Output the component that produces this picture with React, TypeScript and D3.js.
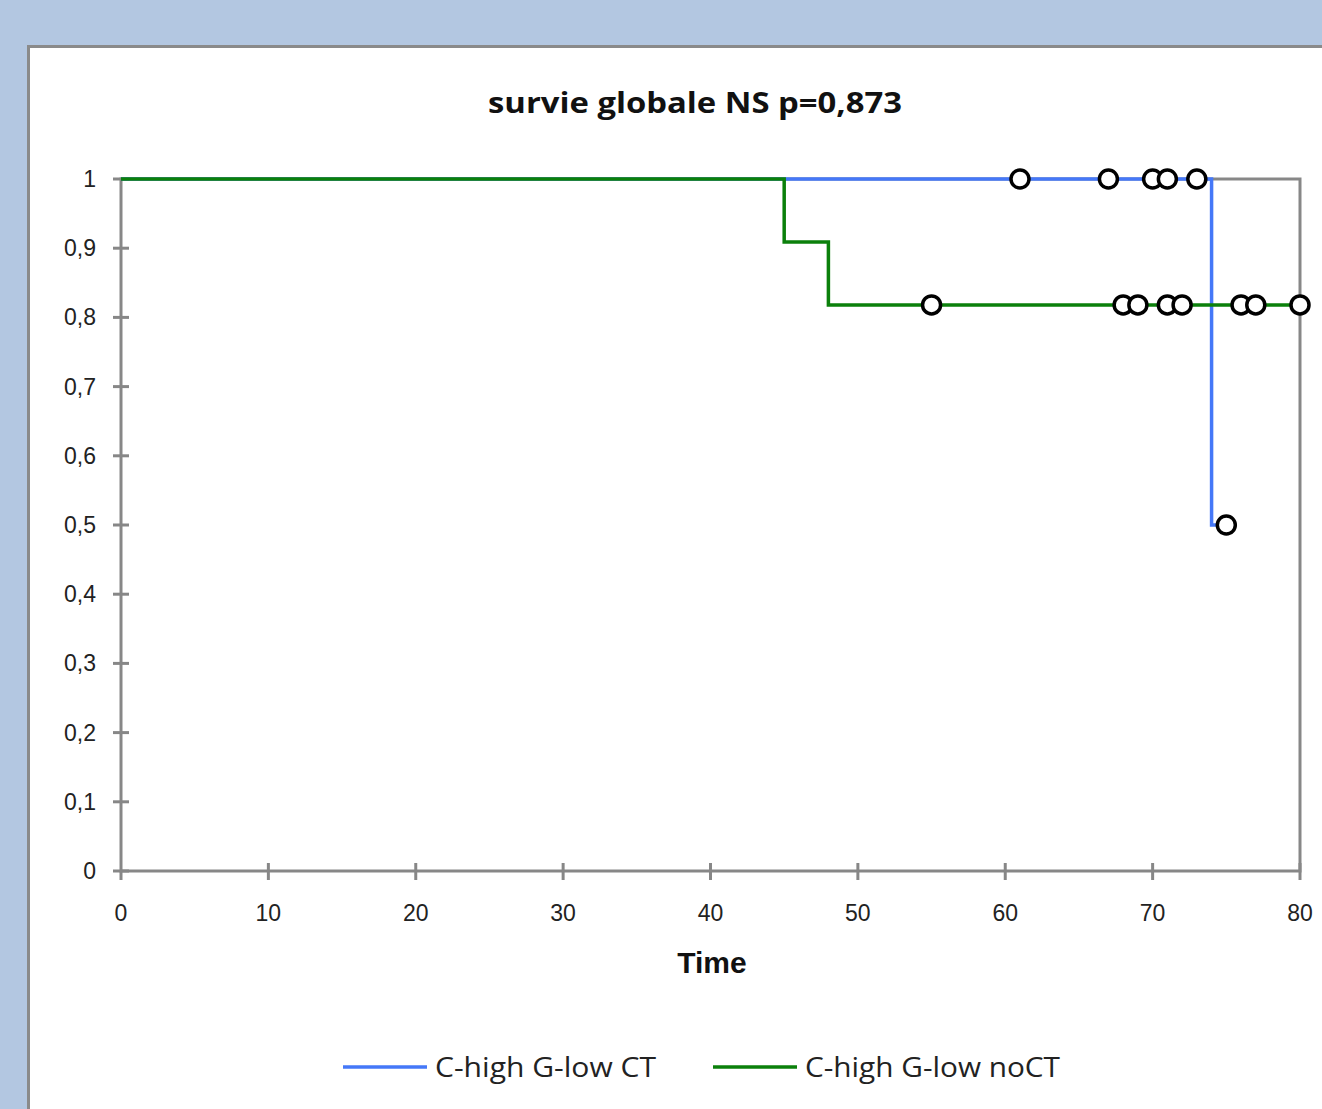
import React from 'react';
import { scaleLinear, line, curveStepAfter } from 'd3';

const width = 1322;
const height = 1109;

// Kaplan-Meier steps
const ctTimes = [0, 74, 75];
const ctSurvival = [1, 0.5, 0.5];
const noCtTimes = [0, 45, 48, 80];
const noCtSurvival = [1, 0.909, 0.818, 0.818];

// censored observations
const ctCensorTimes = [61, 67, 70, 71, 73, 75];
const ctCensorSurvival = [1, 1, 1, 1, 1, 0.5];
const noCtCensorTimes = [55, 68, 69, 71, 72, 76, 77, 80];
const noCtCensorSurvival = [0.818, 0.818, 0.818, 0.818, 0.818, 0.818, 0.818, 0.818];

const xTicks = [0, 10, 20, 30, 40, 50, 60, 70, 80];
const yTicks = [0, 0.1, 0.2, 0.3, 0.4, 0.5, 0.6, 0.7, 0.8, 0.9, 1];

const seriesNames = ['C-high G-low CT', 'C-high G-low noCT'];
const blue = '#4578f8';
const green = '#0b800b';
const axisGrey = '#878787';

const plot = { left: 121, right: 1300, top: 179, bottom: 871 };

function App() {
  const xScale = scaleLinear().domain([0, 80]).range([plot.left, plot.right]);
  const yScale = scaleLinear().domain([0, 1]).range([plot.bottom, plot.top]);

  const stepLine = line<[number, number]>()
    .x(d => xScale(d[0]))
    .y(d => yScale(d[1]))
    .curve(curveStepAfter);

  const ctPts = ctTimes.map((t, i) => [t, ctSurvival[i]] as [number, number]);
  const noCtPts = noCtTimes.map((t, i) => [t, noCtSurvival[i]] as [number, number]);

  const fmt = (v: number) => (v === 0 || v === 1 ? String(v) : v.toFixed(1).replace('.', ','));

  return (
    <svg width={width} height={height} style={{ position: 'fixed', left: 0, top: 0 }}>
      <rect x={0} y={0} width={width} height={height} fill="#b3c7e1" />
      <rect x={28.5} y={46.5} width={width} height={height} fill="#fff" stroke="#8a8a8a" strokeWidth={3} />

      <text x={695} y={113} textAnchor="middle" fontFamily="'Open Sans', sans-serif" fontWeight="bold"
        fontSize={28} textLength={414} lengthAdjust="spacingAndGlyphs" fill="#111">
        survie globale NS p=0,873
      </text>

      {/* plot frame */}
      <rect x={plot.left} y={plot.top} width={plot.right - plot.left} height={plot.bottom - plot.top}
        fill="none" stroke={axisGrey} strokeWidth={3} />

      {/* y ticks */}
      {yTicks.map(t => (
        <g key={t}>
          <line x1={plot.left - 8} x2={plot.left + 8} y1={yScale(t)} y2={yScale(t)} stroke={axisGrey} strokeWidth={3} />
          <text x={96} y={yScale(t)} dy="0.35em" textAnchor="end" fontFamily="'Liberation Sans', sans-serif"
            fontSize={23} fill="#222">{fmt(t)}</text>
        </g>
      ))}

      {/* x ticks */}
      {xTicks.map(t => (
        <g key={t}>
          <line x1={xScale(t)} x2={xScale(t)} y1={t === 0 ? plot.bottom : plot.bottom - 8} y2={plot.bottom + 9}
            stroke={axisGrey} strokeWidth={3} />
          <text x={xScale(t)} y={921} textAnchor="middle" fontFamily="'Liberation Sans', sans-serif"
            fontSize={23} fill="#222">{t}</text>
        </g>
      ))}

      <text x={712} y={973} textAnchor="middle" fontFamily="'Liberation Sans', sans-serif" fontWeight="bold"
        fontSize={30} fill="#111">Time</text>

      <path d={stepLine(ctPts) || ''} fill="none" stroke={blue} strokeWidth={3.5} />
      <path d={stepLine(noCtPts) || ''} fill="none" stroke={green} strokeWidth={3.5} />

      {ctCensorTimes.map((t, i) => (
        <circle key={'c' + i} cx={xScale(t)} cy={yScale(ctCensorSurvival[i])} r={9}
          fill="#fff" stroke="#000" strokeWidth={3.5} />
      ))}
      {noCtCensorTimes.map((t, i) => (
        <circle key={'n' + i} cx={xScale(t)} cy={yScale(noCtCensorSurvival[i])} r={9}
          fill="#fff" stroke="#000" strokeWidth={3.5} />
      ))}

      {/* legend */}
      <line x1={343} x2={427} y1={1067} y2={1067} stroke={blue} strokeWidth={3.5} />
      <text x={435} y={1077} fontFamily="'Open Sans', sans-serif" fontSize={27} textLength={221}
        lengthAdjust="spacingAndGlyphs" fill="#222">{seriesNames[0]}</text>
      <line x1={713} x2={797} y1={1067} y2={1067} stroke={green} strokeWidth={3.5} />
      <text x={805} y={1077} fontFamily="'Open Sans', sans-serif" fontSize={27} textLength={255}
        lengthAdjust="spacingAndGlyphs" fill="#222">{seriesNames[1]}</text>
    </svg>
  );
}

export default App;
